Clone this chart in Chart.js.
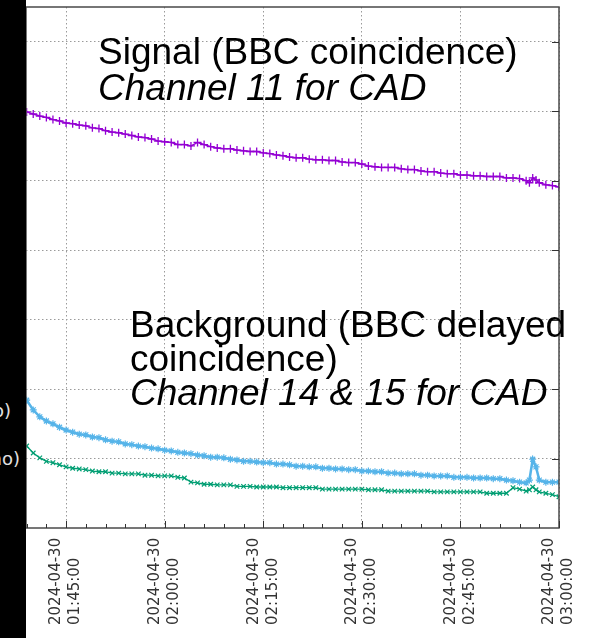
<!DOCTYPE html>
<html><head><meta charset="utf-8">
<script src="https://cdn.jsdelivr.net/npm/chart.js@4.4.1/dist/chart.umd.min.js"></script>
<style>
html,body{margin:0;padding:0;background:#fff;}
#wrap{position:relative;width:590px;height:638px;overflow:hidden;background:#fff;}
#c{position:absolute;left:0;top:0;}
#panel{position:absolute;left:0;top:0;width:26px;height:638px;background:#000;overflow:hidden;}
.leg{position:absolute;color:#e0e0e0;font:18px "DejaVu Sans",sans-serif;line-height:20px;white-space:nowrap;}
.ann{position:absolute;font-family:"Liberation Sans",Arial,sans-serif;font-size:37px;line-height:37px;color:#000;white-space:nowrap;}
.it{font-style:italic;}
</style></head>
<body>
<div id="wrap">
<canvas id="c" width="590" height="638"></canvas>
<div id="panel"><span class="leg" style="right:15px;top:401px;">o)</span><span class="leg" style="right:6px;top:449px;">no)</span></div>
<div class="ann" style="left:98px;top:33px;">Signal (BBC coincidence)</div>
<div class="ann it" style="left:98px;top:69px;">Channel 11 for CAD</div>
<div class="ann" style="left:130px;top:306px;">Background (BBC delayed</div>
<div class="ann" style="left:130px;top:340px;">coincidence)</div>
<div class="ann it" style="left:130px;top:374px;">Channel 14 &amp; 15 for CAD</div>
</div>
<script>
// ---- data ----
const timeLabels = [
 "01:39","01:40","01:41","01:42","01:43","01:44","01:45","01:46","01:47","01:48",
 "01:49","01:50","01:51","01:52","01:53","01:54","01:55","01:56","01:57","01:58",
 "01:59","02:00","02:01","02:02","02:03","02:04","02:05","02:06","02:07","02:08",
 "02:09","02:10","02:11","02:12","02:13","02:14","02:15","02:16","02:17","02:18",
 "02:19","02:20","02:21","02:22","02:23","02:24","02:25","02:26","02:27","02:28",
 "02:29","02:30","02:31","02:32","02:33","02:34","02:35","02:36","02:37","02:38",
 "02:39","02:40","02:41","02:42","02:43","02:44","02:45","02:46","02:47","02:48",
 "02:49","02:50","02:51","02:52","02:53","02:54","02:55",
 "02:55:30","02:56","02:56:30","02:57","02:58","02:59","03:00"
];
const signalBBC = [
 5.99,5.96,5.93,5.91,5.88,5.86,5.83,5.82,5.80,5.79,
 5.76,5.75,5.72,5.70,5.69,5.67,5.65,5.63,5.62,5.60,
 5.57,5.56,5.55,5.52,5.52,5.50,5.55,5.52,5.49,5.47,
 5.46,5.46,5.44,5.43,5.42,5.42,5.40,5.39,5.37,5.36,
 5.34,5.33,5.33,5.31,5.30,5.30,5.29,5.29,5.27,5.26,
 5.26,5.24,5.21,5.20,5.19,5.19,5.19,5.17,5.16,5.16,
 5.14,5.13,5.13,5.11,5.10,5.10,5.08,5.08,5.07,5.07,
 5.06,5.06,5.06,5.04,5.04,5.03,5.00,
 4.97,5.04,5.01,4.97,4.94,4.93,4.91
];
const backgroundBlue = [
 1.84,1.70,1.60,1.54,1.50,1.45,1.41,1.38,1.35,1.34,
 1.31,1.30,1.27,1.25,1.24,1.21,1.20,1.18,1.17,1.15,
 1.14,1.12,1.11,1.09,1.08,1.07,1.05,1.04,1.02,1.02,
 1.01,0.99,0.98,0.96,0.96,0.95,0.94,0.94,0.92,0.92,
 0.91,0.89,0.89,0.88,0.88,0.86,0.86,0.85,0.85,0.84,
 0.84,0.82,0.82,0.81,0.81,0.79,0.79,0.78,0.78,0.78,
 0.76,0.76,0.75,0.75,0.75,0.73,0.73,0.73,0.72,0.72,
 0.72,0.71,0.71,0.69,0.68,0.66,0.65,
 0.69,0.99,0.88,0.69,0.66,0.66,0.66
];
const backgroundGreen = [
 1.18,1.08,1.01,0.96,0.94,0.91,0.88,0.86,0.85,0.84,
 0.82,0.81,0.81,0.79,0.79,0.78,0.78,0.78,0.76,0.76,
 0.75,0.75,0.75,0.73,0.72,0.66,0.65,0.63,0.63,0.62,
 0.62,0.62,0.60,0.60,0.60,0.59,0.59,0.59,0.59,0.58,
 0.58,0.58,0.58,0.58,0.58,0.56,0.56,0.56,0.56,0.56,
 0.56,0.56,0.55,0.55,0.55,0.53,0.53,0.53,0.53,0.53,
 0.53,0.53,0.52,0.52,0.52,0.52,0.52,0.52,0.52,0.52,
 0.50,0.50,0.50,0.50,0.58,0.56,0.53,
 0.55,0.59,0.55,0.52,0.50,0.48,0.45
];
const tickDates = ["2024-04-30","2024-04-30","2024-04-30","2024-04-30","2024-04-30","2024-04-30"];
const tickTimes = ["01:45:00","02:00:00","02:15:00","02:30:00","02:45:00","03:00:00"];
const yGridValues = [1,2,3,4,5,6,7];
const xRangeStart = "01:38:54", xRangeEnd = "03:00:00";

// ---- helpers ----
const toMin = s => { const p = s.split(':').map(Number); return p[0]*60 + p[1] + (p[2]||0)/60; };
const mk = vals => timeLabels.map((t,i)=>({x: toMin(t), y: vals[i]}));
const majorTicks = tickTimes.map(toMin);
const minorTicks = [];
for (let v = majorTicks[0] - 6; v <= majorTicks[majorTicks.length-1] + 0.01; v += 3) minorTicks.push(v);

const framePlugin = {
  id: 'frame',
  afterDraw(chart) {
    const ctx = chart.ctx, {left,right,top,bottom} = chart.chartArea;
    const xs = chart.scales.x, ys = chart.scales.y;
    ctx.save();
    ctx.strokeStyle = '#4a4a4a'; ctx.lineWidth = 1.5;
    ctx.strokeRect(left, top, right-left, bottom-top);
    ctx.lineWidth = 1; ctx.strokeStyle = '#333';
    ctx.beginPath();
    minorTicks.forEach(v => {
      const px = Math.round(xs.getPixelForValue(v)) + 0.5;
      const major = majorTicks.some(m => Math.abs(m - v) < 0.01);
      ctx.moveTo(px, bottom); ctx.lineTo(px, bottom - (major ? 7 : 4));
    });
    yGridValues.forEach(v => {
      const py = Math.round(ys.getPixelForValue(v)) + 0.5;
      ctx.moveTo(right, py); ctx.lineTo(right - 7, py);
    });
    ctx.stroke();
    ctx.fillStyle = '#333';
    ctx.font = '15px "DejaVu Sans", sans-serif';
    ctx.textAlign = 'left'; ctx.textBaseline = 'middle';
    majorTicks.forEach((v,i) => {
      const px = xs.getPixelForValue(v);
      ctx.save();
      ctx.translate(px, 625);
      ctx.rotate(-Math.PI/2);
      ctx.fillText(tickDates[i], 0, -9.5);
      ctx.fillText(tickTimes[i], 0, 9.5);
      ctx.restore();
    });
    ctx.restore();
  }
};

const gridOpts = {color:'#9a9a9a', lineWidth:1, drawTicks:false};
new Chart(document.getElementById('c'), {
  type: 'line',
  data: { datasets: [
    {label:'Signal (BBC coincidence)', data: mk(signalBBC), borderColor:'#9400d3', backgroundColor:'#9400d3',
     borderWidth:1.5, pointStyle:'cross', pointRadius:4, pointBorderWidth:1.3, tension:0},
    {label:'Background (BBC delayed coincidence) A', data: mk(backgroundBlue), borderColor:'#56b4e9', backgroundColor:'#56b4e9',
     borderWidth:2.5, pointStyle:'star', pointRadius:3.5, pointBorderWidth:1.2, tension:0},
    {label:'Background (BBC delayed coincidence) B', data: mk(backgroundGreen), borderColor:'#009e73', backgroundColor:'#009e73',
     borderWidth:1.3, pointStyle:'crossRot', pointRadius:3.2, pointBorderWidth:1.2, tension:0}
  ]},
  options: {
    responsive:false, animation:false, devicePixelRatio:1,
    layout:{padding:{left:26, right:31, top:7, bottom:0}},
    plugins:{legend:{display:false}, tooltip:{enabled:false}},
    scales:{
      x:{type:'linear', min:toMin(xRangeStart), max:toMin(xRangeEnd),
         afterBuildTicks: s => { s.ticks = majorTicks.map(v=>({value:v})); },
         afterFit: s => { s.height = 110; },
         ticks:{display:false}, grid:gridOpts, border:{display:false, dash:[1.5,2.5]}},
      y:{type:'linear', min:0, max:7.5,
         afterBuildTicks: s => { s.ticks = yGridValues.map(v=>({value:v})); },
         afterFit: s => { s.width = 0; },
         ticks:{display:false}, grid:gridOpts, border:{display:false, dash:[1.5,2.5]}}
    }
  },
  plugins:[framePlugin]
});
</script>
</body></html>
